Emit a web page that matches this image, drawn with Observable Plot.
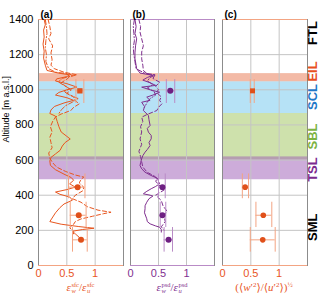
<!DOCTYPE html>
<html><head><meta charset="utf-8">
<script src="https://cdn.jsdelivr.net/npm/d3@7"></script>
<script src="https://cdn.jsdelivr.net/npm/@observablehq/plot@0.6"></script>
<style>
body{margin:0;background:#fff;}
#wrap{position:relative;width:320px;height:297px;overflow:hidden;font-family:"Liberation Sans",Arial,sans-serif;}
#wrap div.p{position:absolute;top:0;}
#wrap svg{overflow:visible;}
.xl{position:absolute;top:282px;transform:translateX(-50%);font-family:"Liberation Serif","DejaVu Serif",serif;font-size:11px;white-space:nowrap;line-height:11px;}
.st{display:inline-block;vertical-align:middle;font-size:6.5px;line-height:6px;text-align:left;margin-left:0.5px;}
.st span{display:block;}
.it{font-style:italic;}
.sp{font-size:7px;vertical-align:4px;line-height:0;}
</style></head>
<body><div id="wrap"></div>
<script>
// ---------- data ----------
const altTicks = [0, 200, 400, 600, 800, 1000, 1200, 1400];
const xTicks = [0, 0.5, 1];

const bandNames  = ["EIL", "SCL", "SBL", "TSL"];
const bandLo     = [1045, 865, 600, 488];
const bandHi     = [1092, 1045, 865, 618];
const bandColors = ["#e8764d", "#6ec6ee", "#9dc45a", "#9b59b6"];

const layerNames  = ["FTL", "EIL", "SCL", "SBL", "TSL", "SML"];
const layerAlt    = [1323, 1104, 959, 734, 546, 218];
const layerColors = ["#000000", "#e8501e", "#1f78c8", "#7cb342", "#7b2a8e", "#000000"];

// panel (a) profiles
const aSolidAlt = [1400,1370,1340,1300,1260,1220,1180,1140,1110,1095,1085,1075,1062,1050,1035,1015,1000,985,970,955,940,925,905,885,865,850,820,790,760,735,720,700,680,655,635,615,595,570,545,520,500,485,465,446,432,418,405,390,372,350,330,300,270,250,235,222,212,205,195,180,160,140];
const aSolidVal = [0.10,0.12,0.09,0.10,0.08,0.10,0.09,0.12,0.15,0.35,0.55,0.50,0.32,0.30,0.50,0.68,0.50,0.36,0.30,0.50,0.62,0.45,0.28,0.22,0.20,0.30,0.33,0.36,0.40,0.50,0.56,0.47,0.42,0.38,0.30,0.22,0.20,0.21,0.30,0.45,0.58,0.62,0.55,0.65,0.50,0.30,0.38,0.55,0.60,0.45,0.38,0.30,0.24,0.20,0.40,0.70,0.98,0.78,0.60,0.65,0.72,0.75];
const aDashAlt = [1400,1360,1320,1290,1250,1210,1170,1140,1120,1100,1085,1075,1060,1040,1020,1000,980,960,940,920,900,882,862,845,820,790,760,730,700,670,640,610,585,560,535,515,503,490,470,445,425,400,380,360,335,315,303,295,280,265,250,235,215,200,180];
const aDashVal = [0.17,0.20,0.22,0.18,0.25,0.22,0.24,0.22,0.28,0.45,0.68,0.55,0.50,0.40,0.48,0.58,0.50,0.62,0.64,0.72,0.62,0.57,0.40,0.30,0.25,0.21,0.24,0.20,0.22,0.24,0.18,0.20,0.25,0.32,0.48,0.65,0.80,0.75,0.72,0.80,0.78,0.65,0.60,0.75,0.86,1.05,1.28,1.15,0.95,0.75,0.65,0.62,0.55,0.60,0.62];
const aDotAlt = [1400,1360,1320,1280,1240,1200,1160,1120,1100,1090,1080,1065,1045,1025,1005,990,970,950,930,910,885,860];
const aDotVal = [0.12,0.14,0.15,0.13,0.12,0.14,0.13,0.18,0.30,0.55,0.60,0.42,0.35,0.45,0.55,0.45,0.55,0.70,0.60,0.48,0.40,0.35];

// panel (b) profiles
const bSolidAlt = [1400,1360,1320,1290,1250,1210,1176,1140,1120,1095,1082,1070,1055,1040,1025,1015,1000,986,970,958,940,929,905,882,854,830,797,780,759,740,721,700,683,660,645,625,607,585,569,550,531,515,503,493,478,465,450,437,420,408,400,395,380,360,340,323,300,266,250,237,225,218,205,190];
const bSolidVal = [0.08,0.10,0.08,0.11,0.09,0.08,0.08,0.10,0.11,0.17,0.40,0.30,0.22,0.35,0.45,0.20,0.35,0.52,0.40,0.29,0.35,0.20,0.25,0.23,0.32,0.33,0.35,0.30,0.32,0.37,0.37,0.33,0.35,0.30,0.26,0.22,0.20,0.18,0.17,0.20,0.26,0.35,0.43,0.49,0.50,0.52,0.45,0.37,0.28,0.23,0.35,0.40,0.33,0.29,0.26,0.26,0.25,0.29,0.30,0.35,0.45,0.52,0.55,0.55];
const bDashAlt = [1400,1360,1328,1290,1252,1215,1176,1140,1110,1090,1080,1065,1043,1020,1000,986,960,940,920,900,882,860,844,820,790,760,720,690,650,620,590,560,530,510,495,480,460,430,400,370,340,310,280,250,220,200];
const bDashVal = [0.15,0.18,0.17,0.20,0.23,0.20,0.20,0.22,0.23,0.30,0.43,0.40,0.52,0.45,0.50,0.46,0.55,0.52,0.56,0.50,0.47,0.30,0.20,0.22,0.18,0.20,0.17,0.20,0.15,0.18,0.20,0.22,0.30,0.42,0.48,0.45,0.50,0.60,0.45,0.55,0.58,0.65,0.60,0.62,0.55,0.60];
const bDotAlt = [1400,1360,1320,1280,1240,1200,1160,1120,1095,1085,1070,1050,1030,1010,990,970,950,930,900];
const bDotVal = [0.07,0.05,0.06,0.07,0.05,0.06,0.08,0.10,0.25,0.45,0.35,0.30,0.40,0.30,0.42,0.45,0.35,0.30,0.25];

// point estimates with ranges (altitude of leg, value, value range, altitude range)
const ptAlt   = [994, 446, 286, 146];
const ptAltLo = [922, 380, 216, 76];
const ptAltHi = [1058, 521, 360, 216];
const ptSym   = ["square", "circle", "circle", "circle"];
const aPtVal = [0.73, 0.69, 0.71, 0.75];
const aPtLo  = [0.66, 0.53, 0.56, 0.60];
const aPtHi  = [0.80, 0.82, 0.84, 0.86];
const bPtVal = [0.71, 0.57, 0.57, 0.68];
const bPtLo  = [0.64, 0.50, 0.53, 0.60];
const bPtHi  = [0.79, 0.62, 0.63, 0.75];
const cPtVal = [0.53, 0.40, 0.72, 0.71];
const cPtLo  = [0.49, 0.35, 0.59, 0.49];
const cPtHi  = [0.56, 0.46, 0.87, 0.93];

// ---------- build ----------
const ORANGE = "#e8561f", ORANGE_L = "#f3a483", ORANGE_P = "#e0501a";
const PURPLE = "#7f2f8f", PURPLE_L = "#b98bc6", PURPLE_P = "#6e1f82";

const bands = bandNames.map((n, i) => ({name: n, lo: bandLo[i], hi: bandHi[i], color: bandColors[i]}));
const layers = layerNames.map((n, i) => ({name: n, alt: layerAlt[i], color: layerColors[i]}));
const prof = (alts, vals) => alts.map((a, i) => ({alt: a, v: vals[i]}));
const pts = (vals, lo, hi) => ptAlt.map((a, i) => ({alt: a, v: vals[i], lo: lo[i], hi: hi[i], altLo: ptAltLo[i], altHi: ptAltHi[i], sym: ptSym[i]}));

function panel({width, ml, mr, color, light, pcolor, lines, points, title, yaxis, extra, r}) {
  const marks = [
    Plot.rect(bands, {x1: 0, x2: 1.5, y1: "lo", y2: "hi", fill: "color", fillOpacity: 0.5}),
    Plot.gridX(xTicks.slice(1), {stroke: "#c4c4c4", strokeOpacity: 1}),
    Plot.gridY(altTicks.slice(1, -1), {stroke: "#c4c4c4", strokeOpacity: 1}),
    Plot.frame({stroke: "#8c8c8c"}),
    Plot.ruleY([0, 1400], {stroke: light, strokeWidth: 1.2}),
    Plot.axisX({ticks: xTicks, tickSize: 0, tickPadding: 4, fontSize: 11, label: null, color: color, fill: color, tickFormat: d => String(d)})
  ];
  for (const L of lines) {
    marks.push(Plot.line(L.data, {x: "v", y: "alt", stroke: color, strokeWidth: 1, strokeDasharray: L.dash, curve: "linear"}));
  }
  if (points) {
    marks.push(Plot.ruleX(points, {x: "lo", y1: "altLo", y2: "altHi", stroke: light, strokeWidth: 1}));
    marks.push(Plot.ruleX(points, {x: "hi", y1: "altLo", y2: "altHi", stroke: light, strokeWidth: 1}));
    marks.push(Plot.ruleY(points, {y: "alt", x1: "lo", x2: "hi", stroke: light, strokeWidth: 1}));
    marks.push(Plot.dot(points, {x: "v", y: "alt", fill: pcolor, stroke: "none", r: r, symbol: "sym"}));
  }
  marks.push(Plot.text([title], {frameAnchor: "top-left", dx: 2, dy: -9, fontWeight: "bold", fontSize: 10, textAnchor: "start", fill: "black"}));
  if (yaxis) {
    marks.push(Plot.axisY({ticks: altTicks, tickSize: 0, tickPadding: 5, fontSize: 11, label: null, fill: "black", color: "black", tickFormat: d => String(d)}));
    marks.push(Plot.text(["Altitude [m a.s.l.]"], {frameAnchor: "left", dx: -32, rotate: -90, fontSize: 9, fill: "black"}));
  }
  if (extra) marks.push(...extra);
  return Plot.plot({
    width, height: 297,
    marginLeft: ml, marginRight: mr, marginTop: 19, marginBottom: 32,
    x: {domain: [0, 1.5], axis: null},
    y: {domain: [0, 1400], axis: null},
    style: {fontFamily: "Liberation Sans, Arial, sans-serif", background: "transparent", overflow: "visible"},
    marks
  });
}

const wrap = document.getElementById("wrap");
function place(node, left, w) {
  const d = document.createElement("div");
  d.className = "p"; d.style.left = left + "px"; d.style.width = w + "px";
  d.appendChild(node); wrap.appendChild(d);
}

place(panel({
  width: 125, ml: 38, mr: 2, color: ORANGE, light: ORANGE_L, pcolor: ORANGE_P, r: 3,
  lines: [{data: prof(aSolidAlt, aSolidVal), dash: null}, {data: prof(aDashAlt, aDashVal), dash: "4,2.5"}, {data: prof(aDotAlt, aDotVal), dash: "5,2,1.2,2"}],
  points: pts(aPtVal, aPtLo, aPtHi), title: "(a)", yaxis: true
}), 0, 125);

place(panel({
  width: 88, ml: 2, mr: 2, color: PURPLE, light: PURPLE_L, pcolor: PURPLE_P, r: 3,
  lines: [{data: prof(bSolidAlt, bSolidVal), dash: null}, {data: prof(bDashAlt, bDashVal), dash: "4,2.5"}, {data: prof(bDotAlt, bDotVal), dash: "5,2,1.2,2"}],
  points: pts(bPtVal, bPtLo, bPtHi).map(d => ({...d, sym: "circle"})), title: "(b)", yaxis: false
}), 128, 88);

place(panel({
  width: 100, ml: 2, mr: 13, color: ORANGE, light: ORANGE_L, pcolor: ORANGE_P, r: 2.8,
  lines: [], points: pts(cPtVal, cPtLo, cPtHi), title: "(c)", yaxis: false,
  extra: [Plot.text(layers, {x: 1.5, y: "alt", dx: 5, text: "name", fill: "color", rotate: -90, fontWeight: "bold", fontSize: 13})]
}), 220, 100);

// x-axis titles (with stacked super/subscripts)
function xl(html, cx, col) {
  const d = document.createElement("div");
  d.className = "xl"; d.style.left = cx + "px"; d.style.color = col;
  d.innerHTML = html; wrap.appendChild(d);
}
const eps = (sup, sub) => `<span class="it">ε</span><span class="st"><span>${sup}</span><span class="it">${sub}</span></span>`;
xl(eps("sfc", "w") + "/" + eps("sfc", "u"), 80.5, ORANGE);
xl(eps("psd", "w") + "/" + eps("psd", "u"), 172, PURPLE);
xl(`(⟨<span class="it">w</span>′<span class="sp">2</span>⟩/⟨<span class="it">u</span>′<span class="sp">2</span>⟩)<span class="sp">½</span>`, 264, ORANGE);
</script>
</body></html>
